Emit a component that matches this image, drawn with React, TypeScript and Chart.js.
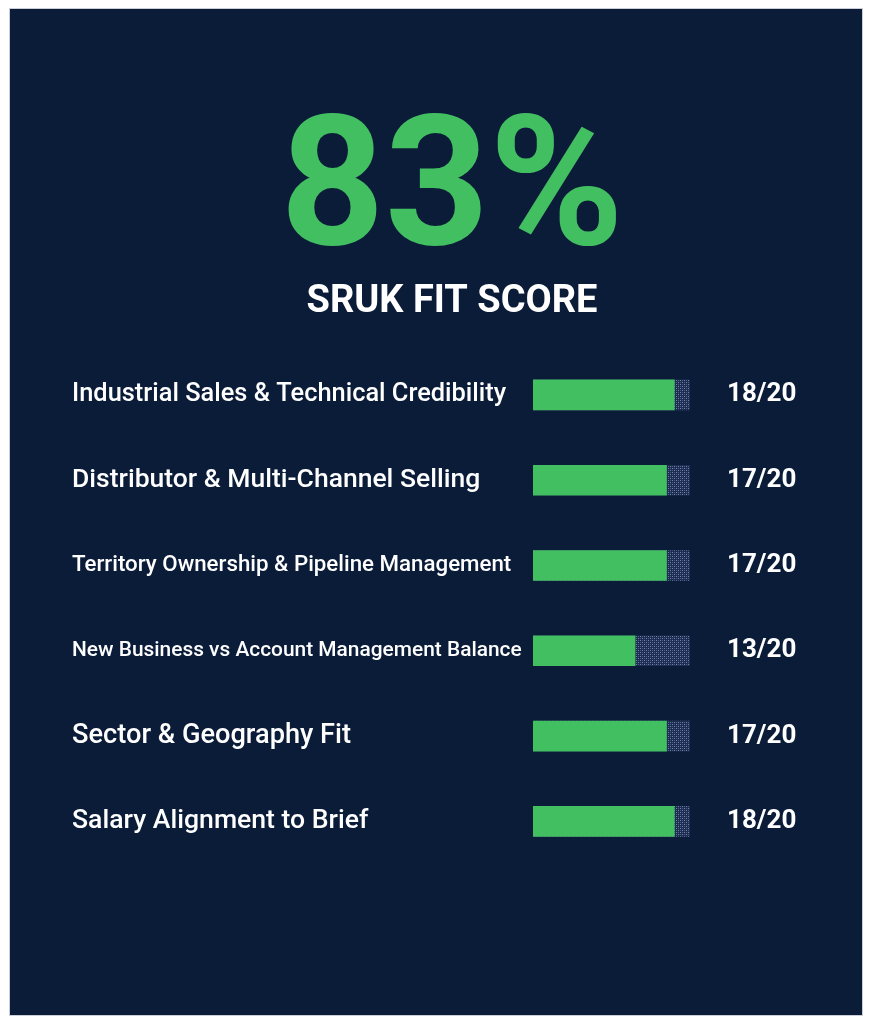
import React, { useEffect, useRef } from "react";
import { Chart, registerables } from "chart.js";

Chart.register(...registerables);

const categories = [
  "Industrial Sales & Technical Credibility",
  "Distributor & Multi-Channel Selling",
  "Territory Ownership & Pipeline Management",
  "New Business vs Account Management Balance",
  "Sector & Geography Fit",
  "Salary Alignment to Brief",
];
const scores = [18, 17, 17, 13, 17, 18];
const maxScores = [20, 20, 20, 20, 20, 20];
const scoreLabels = ["18/20", "17/20", "17/20", "13/20", "17/20", "18/20"];
const headline = "83%";
const subtitleText = "SRUK FIT SCORE";
const labelSizes = [25.4, 26.5, 22.3, 20.9, 27.2, 26.6];

const BG = "#0b1c39";
const GREEN = "#42bf61";

function makeDotPattern(): CanvasPattern | string {
  const c = document.createElement("canvas");
  c.width = 4;
  c.height = 4;
  const g = c.getContext("2d");
  if (!g) return "#34446a";
  g.fillStyle = "#1d2d52";
  g.fillRect(0, 0, 4, 4);
  g.fillStyle = "#7483ad";
  g.fillRect(0, 0, 1, 1);
  g.fillRect(2, 2, 1, 1);
  g.fillStyle = "#4f5f8a";
  g.fillRect(2, 0, 1, 1);
  g.fillRect(0, 2, 1, 1);
  const p = g.createPattern(c, "repeat");
  return p || "#34446a";
}

const panelPlugin = {
  id: "panelBg",
  beforeDraw(chart: any) {
    const { ctx, width, height } = chart;
    ctx.save();
    ctx.fillStyle = "#ffffff";
    ctx.fillRect(0, 0, width, height);
    ctx.fillStyle = BG;
    ctx.fillRect(2, 0, width - 4, height);
    ctx.strokeStyle = "#c9ced8";
    ctx.lineWidth = 1;
    ctx.strokeRect(1.5, 0.5, width - 3, height - 1);
    ctx.restore();
  },
};

export default function App() {
  const ref = useRef<HTMLCanvasElement | null>(null);

  useEffect(() => {
    if (!ref.current) return;
    const pattern = makeDotPattern();
    const chart = new Chart(ref.current, {
      type: "bar",
      data: {
        labels: categories,
        datasets: [
          {
            label: "Score",
            data: scores,
            backgroundColor: GREEN,
            barThickness: 30,
            grouped: false,
            order: 0,
            yAxisID: "y",
          } as any,
          {
            label: "Max",
            data: maxScores,
            backgroundColor: pattern as any,
            barThickness: 30,
            grouped: false,
            order: 1,
            yAxisID: "y",
          } as any,
        ],
      },
      options: {
        indexAxis: "y",
        animation: false,
        responsive: false,
        maintainAspectRatio: false,
        layout: { padding: { left: 64, right: 32, top: 0, bottom: 152 } },
        plugins: {
          legend: { display: false },
          tooltip: { enabled: false },
          title: {
            display: true,
            text: headline,
            color: GREEN,
            font: { family: "Roboto", size: 182, weight: "bold", lineHeight: 0.9 },
            padding: { top: 109, bottom: 0 },
          },
          subtitle: {
            display: true,
            text: subtitleText,
            color: "#ffffff",
            font: { family: "Roboto", size: 38, weight: "bold", lineHeight: 1 },
            padding: { top: 2.5, bottom: 31 },
          },
        },
        scales: {
          x: {
            display: false,
            min: 0,
            max: 20,
          },
          y: {
            position: "left",
            offset: true,
            grid: { display: false, drawTicks: false },
            border: { display: false },
            ticks: {
              color: "#ffffff",
              crossAlign: "far",
              padding: 0,
              autoSkip: false,
              font: (ctx: any) => ({
                family: "Roboto",
                size: labelSizes[ctx.index] ?? 25,
                weight: 500,
              }),
            },
            afterFit: (scale: any) => {
              scale.width = 461;
            },
          },
          score: {
            type: "category",
            position: "right",
            labels: scoreLabels,
            offset: true,
            grid: { display: false, drawTicks: false },
            border: { display: false },
            ticks: {
              color: "#ffffff",
              crossAlign: "near",
              padding: 37,
              autoSkip: false,
              font: { family: "Roboto", size: 26, weight: "bold" },
            },
            afterFit: (scale: any) => {
              scale.width = 142;
            },
          },
        } as any,
      },
      plugins: [panelPlugin],
    });
    return () => chart.destroy();
  }, []);

  return <canvas ref={ref} width={856} height={1008} style={{ display: "block" }} />;
}
